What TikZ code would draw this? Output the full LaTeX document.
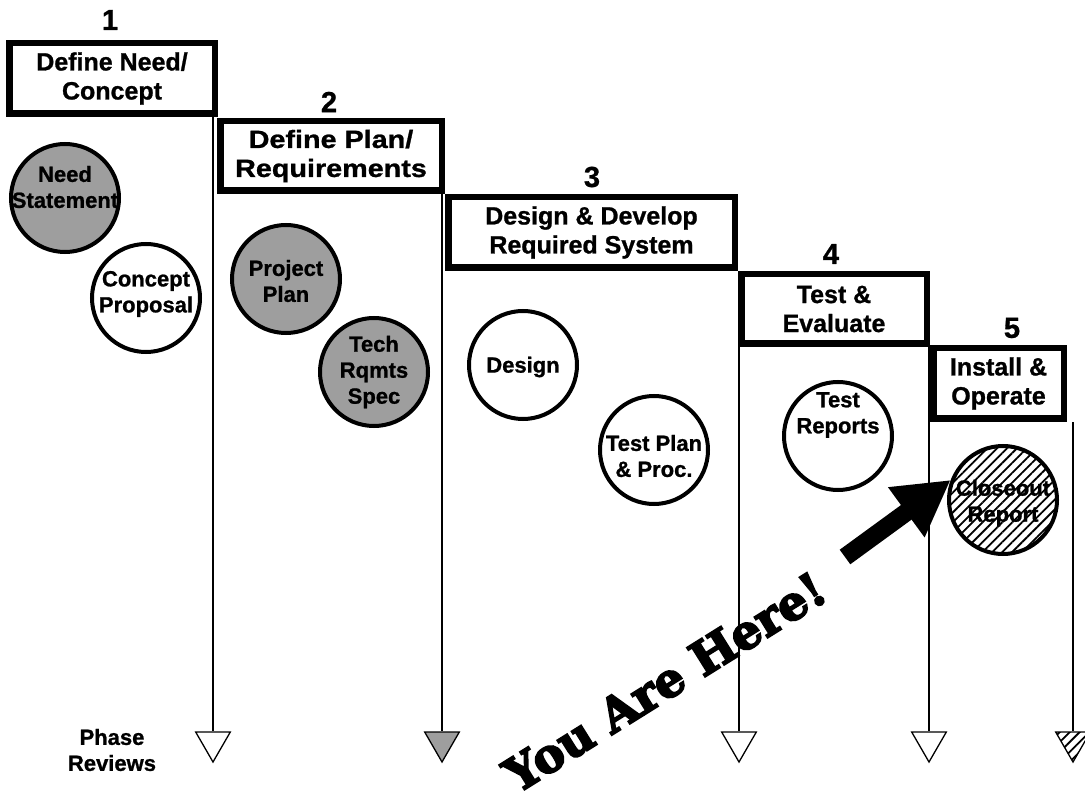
\documentclass[tikz,border=0pt]{standalone}
\usepackage{fontspec}
\setmainfont[BoldFeatures={FakeBold=1}]{Liberation Sans}
\newfontfamily\widefont[FakeStretch=1.15,BoldFeatures={FakeBold=1}]{Liberation Sans}
\newfontfamily\yahfont[BoldFeatures={FakeBold=4}]{DejaVu Serif}
\usetikzlibrary{shapes.geometric,arrows.meta,patterns.meta}
\begin{document}
\begin{tikzpicture}[x=1pt,y=-1pt,
  phasebox/.style={draw, line width=6.5pt, rectangle, inner sep=0pt, align=center,
    font=\fontsize{25}{29}\selectfont\bfseries},
  numlabel/.style={font=\fontsize{29}{30}\selectfont\bfseries, inner sep=0pt},
  doc/.style={circle, draw, line width=4pt, minimum size=108pt, inner sep=0pt},
  doctext/.style={align=center, inner sep=0pt, font=\fontsize{22}{26}\selectfont\bfseries},
  grayfill/.style={fill=black!38},
  hatchfill/.style={pattern={Lines[angle=45,distance=7pt,line width=1.8pt]}},
  review/.style={regular polygon, regular polygon sides=3, shape border rotate=180,
    draw, line width=1.3pt, minimum size=40pt, inner sep=0pt, fill=white},
  vline/.style={line width=1.8pt},
]
\useasboundingbox (0,0) rectangle (1085,802);
\fill[white] (0,0) rectangle (1085,802);

% phase boxes
\node[phasebox, minimum width=205.5pt, minimum height=70.5pt] (box1) at (112,78.5) {Define Need/\\Concept};
\node[phasebox, minimum width=221.5pt, minimum height=69.5pt,
  font=\fontsize{25}{29}\selectfont\widefont\bfseries] (box2) at (331,156) {Define Plan/\\Requirements};
\node[phasebox, minimum width=286.5pt, minimum height=70.5pt] (box3) at (591.5,232.5) {Design \& Develop\\Required System};
\node[phasebox, minimum width=185.5pt, minimum height=69.5pt] (box4) at (834,309) {Test \&\\Evaluate};
\node[phasebox, minimum width=130.5pt, minimum height=70.5pt] (box5) at (998.5,383.5) {Install \&\\Operate};

% numbers
\node[numlabel] (n1) at (110,20) {1};
\node[numlabel] (n2) at (329,102) {2};
\node[numlabel] (n3) at (592,177) {3};
\node[numlabel] (n4) at (831,254) {4};
\node[numlabel] (n5) at (1012,328) {5};

% review triangles
\node[review] (t1) at (213,742) {};
\node[review, grayfill] (t2) at (442,742) {};
\node[review] (t3) at (739,742) {};
\node[review] (t4) at (929,742) {};
\node[review, hatchfill] (t5) at (1073,742) {};

% vertical lines
\draw[vline] (t1.north |- box1.south) -- (t1.north);
\draw[vline] (t2.north |- box2.south) -- (t2.north);
\draw[vline] (t3.north |- box3.south) -- (t3.north);
\draw[vline] (t4.north |- box4.south) -- (t4.north);
\draw[vline] (t5.north |- box5.south) -- (t5.north);

\node[doctext] (pr) at (112,750) {Phase\\Reviews};

% documents
\node[doc, grayfill] (need) at (65,198) {};
\node[doctext] (needt) at (65,187) {Need\\Statement};
\node[doc] (concept) at (146,298) {};
\node[doctext] (conceptt) at (146,294) {Concept\\Proposal};
\node[doc, grayfill] (proj) at (286,279) {};
\node[doctext] (projt) at (286,281) {Project\\Plan};
\node[doc, grayfill] (tech) at (374,372) {};
\node[doctext] (techt) at (374,372) {Tech\\Rqmts\\Spec};
\node[doc] (design) at (523,365) {};
\node[doctext] (designt) at (523,367) {Design};
\node[doc] (tplan) at (654,450) {};
\node[doctext] (tplant) at (654,456) {Test Plan\\\& Proc.};
\node[doc] (trep) at (838,436) {};
\node[doctext] (trept) at (838,415) {Test\\Reports};
\node[doc, hatchfill] (close) at (1003,500) {};
\node[doctext] (closet) at (1003,503) {Closeout\\Report};

% you are here arrow
\coordinate (arrtail) at (845,557);
\draw[line width=18pt, -{Triangle[length=55pt,width=58pt]}] (arrtail) -- (close.159);
\node[rotate=32, inner sep=0pt, font=\fontsize{47}{47}\selectfont\yahfont\bfseries] (yah) at (665,682) {You Are Here!};
\end{tikzpicture}
\end{document}
